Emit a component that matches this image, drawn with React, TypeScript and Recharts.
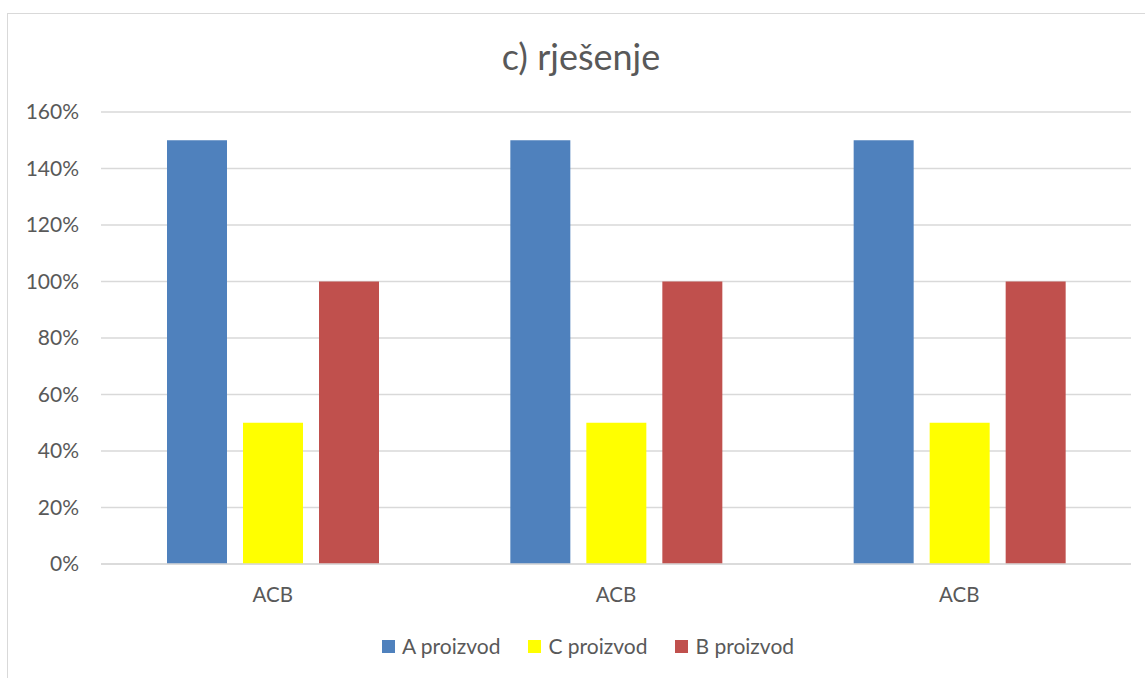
import { BarChart, Bar, XAxis, YAxis, CartesianGrid } from 'recharts';

const categories = ['ACB', 'ACB', 'ACB'];
const aProizvod = [1.5, 1.5, 1.5];
const cProizvod = [0.5, 0.5, 0.5];
const bProizvod = [1.0, 1.0, 1.0];
const yTicks = [0, 0.2, 0.4, 0.6, 0.8, 1.0, 1.2, 1.4, 1.6];

const series = [
  { key: 'a', name: 'A proizvod', color: '#4F81BD' },
  { key: 'c', name: 'C proizvod', color: '#FFFF00' },
  { key: 'b', name: 'B proizvod', color: '#C0504D' },
];

const data = categories.map((name, i) => ({
  name,
  a: aProizvod[i],
  c: cProizvod[i],
  b: bProizvod[i],
}));

const FONT = 'Lato, "Open Sans", sans-serif';
const TEXT = '#595959';

export default function App() {
  return (
    <div style={{ position: 'absolute', left: 0, top: 0, width: 1145, height: 678, background: '#fff', overflow: 'hidden', fontFamily: FONT }}>
      <div style={{ position: 'absolute', left: 7, top: 13, width: 1200, height: 700, border: '1px solid #d9d9d9' }} />
      <div style={{ position: 'absolute', left: 0, width: 1162, top: 36, textAlign: 'center', fontSize: 36, color: TEXT, lineHeight: '40px' }}>
        c) rješenje
      </div>
      <div style={{ position: 'absolute', left: 0, top: 0 }}>
        <BarChart width={1145} height={678} data={data} margin={{ top: 112, right: 14, left: 0, bottom: 74 }} barSize={60} barGap={16}>
          <CartesianGrid vertical={false} stroke="#d9d9d9" strokeWidth={1.5} />
          <XAxis
            dataKey="name"
            height={40}
            axisLine={{ stroke: '#d9d9d9', strokeWidth: 1.5 }}
            tickLine={false}
            tickSize={0}
            tickMargin={23}
            tick={{ fontSize: 20.5, fill: TEXT, fontFamily: FONT }}
          />
          <YAxis
            width={101}
            domain={[0, 1.6]}
            ticks={yTicks}
            axisLine={false}
            tickLine={false}
            tickSize={0}
            tickMargin={22}
            tickFormatter={(v: number) => `${Math.round(v * 100)}%`}
            tick={{ fontSize: 21, fill: TEXT, fontFamily: FONT }}
          />
          {series.map((s) => (
            <Bar key={s.key} dataKey={s.key} name={s.name} fill={s.color} isAnimationActive={false} />
          ))}
        </BarChart>
      </div>
      <div style={{ position: 'absolute', left: 0, width: 1176, top: 634, display: 'flex', justifyContent: 'center', fontSize: 21, color: TEXT }}>
        {series.map((s) => (
          <div key={s.key} style={{ display: 'flex', alignItems: 'center', margin: '0 14px', lineHeight: '24px' }}>
            <span style={{ display: 'inline-block', width: 13, height: 13, background: s.color, marginRight: 7 }} />
            {s.name}
          </div>
        ))}
      </div>
    </div>
  );
}
